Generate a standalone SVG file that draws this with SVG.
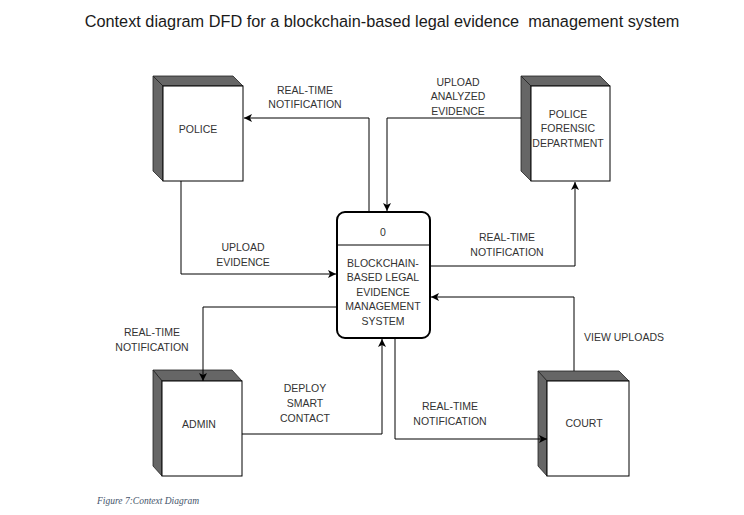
<svg xmlns="http://www.w3.org/2000/svg" width="744" height="515" viewBox="0 0 744 515">
<style>
.side{fill:#666666;stroke:#222;stroke-width:0.8;stroke-linejoin:round}
.face{fill:#ffffff;stroke:#000;stroke-width:1}
.lbl{font-family:"Liberation Sans",Arial,sans-serif;font-size:10.5px;fill:#333333;text-anchor:middle}
.edge{fill:none;stroke:#000;stroke-width:1}
</style>
<defs>
<marker id="arr" markerWidth="10" markerHeight="10" refX="8" refY="4" orient="auto" markerUnits="userSpaceOnUse">
<path d="M0,0 L8,4 L0,8 L2,4 Z" fill="#000"/>
</marker>
</defs>
<rect width="744" height="515" fill="#fff"/>
<text x="382" y="27" font-family="Liberation Sans,Arial,sans-serif" font-size="16.3" fill="#1a1a1a" text-anchor="middle" style="white-space:pre">Context diagram DFD for a blockchain-based legal evidence  management system</text>

<g id="police">
<polygon class="side" points="153,76 233,76 243,86 163,86"/>
<polygon class="side" points="153,76 163,86 163,181 153,171"/>
<rect class="face" x="163" y="86" width="80" height="95"/>
<text class="lbl" x="198" y="133">POLICE</text>
</g>

<g id="forensic">
<polygon class="side" points="521,76 600,76 610,86 531,86"/>
<polygon class="side" points="521,76 531,86 531,181 521,171"/>
<rect class="face" x="531" y="86" width="79" height="95"/>
<text class="lbl" x="568" y="118">POLICE</text>
<text class="lbl" x="568" y="132">FORENSIC</text>
<text class="lbl" x="568" y="147">DEPARTMENT</text>
</g>

<g id="admin">
<polygon class="side" points="153,370 232,370 242,381 162,381"/>
<polygon class="side" points="153,370 162,381 162,476 153,466"/>
<rect class="face" x="162" y="381" width="80" height="95"/>
<text class="lbl" x="199" y="428">ADMIN</text>
</g>

<g id="court">
<polygon class="side" points="538,371 619,371 629,381 547,381"/>
<polygon class="side" points="538,371 547,381 547,476 538,466"/>
<rect class="face" x="547" y="381" width="82" height="95"/>
<text class="lbl" x="584" y="427">COURT</text>
</g>

<g id="process">
<rect x="337" y="212" width="93" height="126" rx="8" ry="8" fill="#fff" stroke="#000" stroke-width="2"/>
<line x1="337" y1="245" x2="430" y2="245" stroke="#000" stroke-width="1"/>
<text class="lbl" x="383" y="236">0</text>
<text class="lbl" x="383" y="267">BLOCKCHAIN-</text>
<text class="lbl" x="383" y="281">BASED LEGAL</text>
<text class="lbl" x="383" y="296">EVIDENCE</text>
<text class="lbl" x="383" y="310">MANAGEMENT</text>
<text class="lbl" x="383" y="325">SYSTEM</text>
</g>

<g id="connectors">
<polyline class="edge" points="369,211 369,118 244,118" marker-end="url(#arr)"/>
<polyline class="edge" points="521,118 387,118 387,211" marker-end="url(#arr)"/>
<polyline class="edge" points="181,181 181,274 336,274" marker-end="url(#arr)"/>
<polyline class="edge" points="431,266 575,266 575,182" marker-end="url(#arr)"/>
<polyline class="edge" points="574,371 574,297 431,297" marker-end="url(#arr)"/>
<polyline class="edge" points="336,307 203,307 203,381" marker-end="url(#arr)"/>
<polyline class="edge" points="242,434 382,434 382,339" marker-end="url(#arr)"/>
<polyline class="edge" points="395,339 395,439 547,439" marker-end="url(#arr)"/>
<text class="lbl" x="305" y="94">REAL-TIME</text>
<text class="lbl" x="305" y="108">NOTIFICATION</text>
<text class="lbl" x="458" y="86">UPLOAD</text>
<text class="lbl" x="458" y="100">ANALYZED</text>
<text class="lbl" x="458" y="115">EVIDENCE</text>
<text class="lbl" x="243" y="251">UPLOAD</text>
<text class="lbl" x="243" y="266">EVIDENCE</text>
<text class="lbl" x="507" y="241">REAL-TIME</text>
<text class="lbl" x="507" y="256">NOTIFICATION</text>
<text class="lbl" x="624" y="341">VIEW UPLOADS</text>
<text class="lbl" x="152" y="336">REAL-TIME</text>
<text class="lbl" x="152" y="351">NOTIFICATION</text>
<text class="lbl" x="305" y="392">DEPLOY</text>
<text class="lbl" x="305" y="407">SMART</text>
<text class="lbl" x="305" y="422">CONTACT</text>
<text class="lbl" x="450" y="410">REAL-TIME</text>
<text class="lbl" x="450" y="425">NOTIFICATION</text>
</g>

<text x="97" y="504" font-family="Liberation Serif,Times New Roman,serif" font-size="9.5" font-style="italic" fill="#44546A">Figure 7:Context Diagram</text>
</svg>
